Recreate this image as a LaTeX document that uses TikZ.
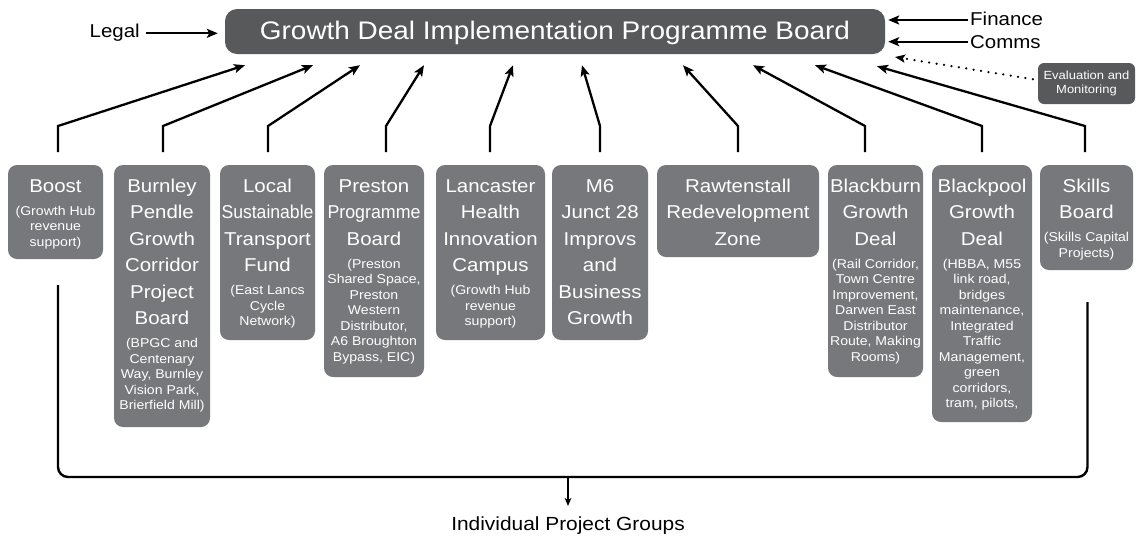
\documentclass[tikz,border=0pt]{standalone}
\usepackage{fontspec}
\setmainfont{Liberation Sans}[FakeStretch=1.1]
\usetikzlibrary{arrows.meta,calc}
\definecolor{boardgray}{HTML}{58595B}
\definecolor{boxgray}{HTML}{77787B}
\newcommand{\bigt}{\fontsize{18.6}{26.5}\selectfont}
\newcommand{\smt}{\fontsize{12.8}{15.5}\selectfont}
\newcommand{\rows}[1]{\begin{tabular}[t]{@{}c@{}}#1\end{tabular}}
\begin{document}
\begin{tikzpicture}[x=1pt,y=-1pt,
  box/.style={fill=boxgray, rounded corners=9pt, inner sep=0pt, outer sep=0pt, anchor=north west},
  btxt/.style={text=white, anchor=base, inner sep=0pt, font=\bigt},
  stxt/.style={text=white, anchor=base, inner sep=0pt, font=\smt},
  lbl/.style={inner sep=0pt, font=\fontsize{18.6}{22}\selectfont},
  arr/.style={line width=2.3pt, -{Stealth[length=11pt,width=9pt,inset=2.5pt]}},
  arrthin/.style={line width=1.5pt, -{Stealth[length=8pt,width=6.5pt,inset=2pt]}},
  dotarr/.style={line width=2.5pt, line cap=round, dash pattern=on 0pt off 7.5pt, -{Stealth[length=10pt,width=8pt,inset=2pt]}},
  brk/.style={line width=2.4pt, rounded corners=10pt}]
\useasboundingbox (0,0) rectangle (1136,542);

% top board
\node[fill=boardgray, rounded corners=12pt, minimum width=660pt, minimum height=45pt, inner sep=0pt] (board) at (555,31.5) {};
\node[anchor=base, text=white, inner sep=0pt, font=\fontsize{25.4}{28}\selectfont] (boardt) at (555,39.3) {Growth Deal Implementation Programme Board};

% side labels
\node[lbl, anchor=base east] (legal) at (140,37.3) {Legal};
\node[lbl, anchor=base west] (finance) at (970,25) {Finance};
\node[lbl, anchor=base west] (comms) at (970,48.3) {Comms};
\draw[arr, shorten <=5.5pt, shorten >=7pt] (legal.east |- 0,33.3) -- (board.west |- 0,33.3);
\draw[arr, shorten <=2pt, shorten >=3pt] (finance.west |- 0,20) -- (board.east |- 0,20);
\draw[arr, shorten <=2pt, shorten >=3pt] (comms.west |- 0,41.7) -- (board.east |- 0,41.7);

% evaluation
\node[fill=boardgray, rounded corners=6pt, minimum width=97pt, minimum height=41pt, inner sep=0pt, text=white, align=center, font=\fontsize{11.8}{13.2}\selectfont] (eval) at (1086.5,83.5) {Evaluation and\\Monitoring};
\coordinate (evtip) at (895,57);
\draw[dotarr, shorten <=5pt] (eval.west |- 0,80) -- (evtip);

% boxes
\node[box, minimum width=95pt, minimum height=94pt] (boost) at (8,165) {};
\node[btxt] (boostt) at (55.5,192) {\rows{Boost}};
\node[stxt] (boosts) at (55.5,215) {\rows{(Growth Hub\\revenue\\support)}};

\node[box, minimum width=96pt, minimum height=262pt] (burnley) at (114,165) {};
\node[btxt] (burnleyt) at (162,192) {\rows{Burnley\\Pendle\\Growth\\Corridor\\Project\\Board}};
\node[stxt] (burnleys) at (162,347.5) {\rows{(BPGC and\\Centenary\\Way, Burnley\\Vision Park,\\Brierfield Mill)}};

\node[box, minimum width=95pt, minimum height=175pt] (local) at (220,165) {};
\node[btxt] (localt) at (267.5,192) {\rows{Local\\\scalebox{0.86}[1]{Sustainable}\\Transport\\Fund}};
\node[stxt] (locals) at (267.5,294.5) {\rows{(East Lancs\\Cycle\\Network)}};

\node[box, minimum width=100pt, minimum height=212pt] (preston) at (324,165) {};
\node[btxt] (prestont) at (374,192) {\rows{Preston\\\scalebox{0.87}[1]{Programme}\\Board}};
\node[stxt] (prestons) at (374,268) {\rows{(Preston\\Shared Space,\\Preston\\Western\\Distributor,\\A6 Broughton\\Bypass, EIC)}};

\node[box, minimum width=109pt, minimum height=175pt] (lancaster) at (436,165) {};
\node[btxt] (lancastert) at (490.5,192) {\rows{Lancaster\\Health\\Innovation\\Campus}};
\node[stxt] (lancasters) at (490.5,294.5) {\rows{(Growth Hub\\revenue\\support)}};

\node[box, minimum width=96pt, minimum height=175pt] (m6) at (552,165) {};
\node[btxt] (m6t) at (600,192) {\rows{M6\\Junct 28\\Improvs\\and\\Business\\Growth}};

\node[box, minimum width=162pt, minimum height=92pt] (rawtenstall) at (657,165) {};
\node[btxt] (rawtenstallt) at (738,192) {\rows{Rawtenstall\\Redevelopment\\Zone}};

\node[box, minimum width=95pt, minimum height=212pt] (blackburn) at (828,165) {};
\node[btxt] (blackburnt) at (875.5,192) {\rows{Blackburn\\Growth\\Deal}};
\node[stxt] (blackburns) at (875.5,268) {\rows{(Rail Corridor,\\Town Centre\\Improvement,\\Darwen East\\Distributor\\Route, Making\\Rooms)}};

\node[box, minimum width=100pt, minimum height=257pt] (blackpool) at (932,165) {};
\node[btxt] (blackpoolt) at (982,192) {\rows{Blackpool\\Growth\\Deal}};
\node[stxt] (blackpools) at (982,268) {\rows{(HBBA, M55\\link road,\\bridges\\maintenance,\\Integrated\\Traffic\\Management,\\green\\corridors,\\tram, pilots,}};

\node[box, minimum width=93pt, minimum height=105pt] (skills) at (1040,165) {};
\node[btxt] (skillst) at (1086.5,192) {\rows{Skills\\Board}};
\node[stxt] (skillss) at (1086.5,241.5) {\rows{(Skills Capital\\Projects)}};

% arrows up to the board
\draw[arr] (boost.north) ++(2.5,-13) -- ++(0,-26) -- ($(board.south -| 245,0)+(0,11)$);
\draw[arr] (burnley.north) ++(1,-13) -- ++(0,-26) -- ($(board.south -| 313,0)+(0,11)$);
\draw[arr] (local.north) ++(0.5,-13) -- ++(0,-26) -- ($(board.south -| 360,0)+(0,11)$);
\draw[arr] (preston.north) ++(12,-13) -- ++(0,-26) -- ($(board.south -| 424,0)+(0,11)$);
\draw[arr] (lancaster.north) ++(-0.5,-13) -- ++(0,-26) -- ($(board.south -| 513,0)+(0,11)$);
\draw[arr] (m6.north) ++(0,-13) -- ++(0,-26) -- ($(board.south -| 582,0)+(0,11)$);
\draw[arr] (rawtenstall.north) ++(0,-13) -- ++(0,-26) -- ($(board.south -| 683,0)+(0,11)$);
\draw[arr] (blackburn.north) ++(-10.5,-13) -- ++(0,-26) -- ($(board.south -| 753,0)+(0,11)$);
\draw[arr] (blackpool.north) ++(0,-13) -- ++(0,-26) -- ($(board.south -| 815,0)+(0,11)$);
\draw[arr] (skills.north) ++(-1.5,-13) -- ++(0,-26) -- ($(board.south -| 877,0)+(0,12)$);

% bottom bracket
\draw[brk] ($(boost.south)+(2.5,26)$) -- ($(boost.south)+(2.5,218)$) -| ($(skills.south)+(1,32)$);
\node[inner sep=0pt, anchor=base, font=\fontsize{19}{22}\selectfont] (ipg) at (568,530) {Individual Project Groups};
\draw[arrthin] (ipg.north |- 0,477) -- ($(ipg.north)+(0,-10)$);
\end{tikzpicture}
\end{document}
